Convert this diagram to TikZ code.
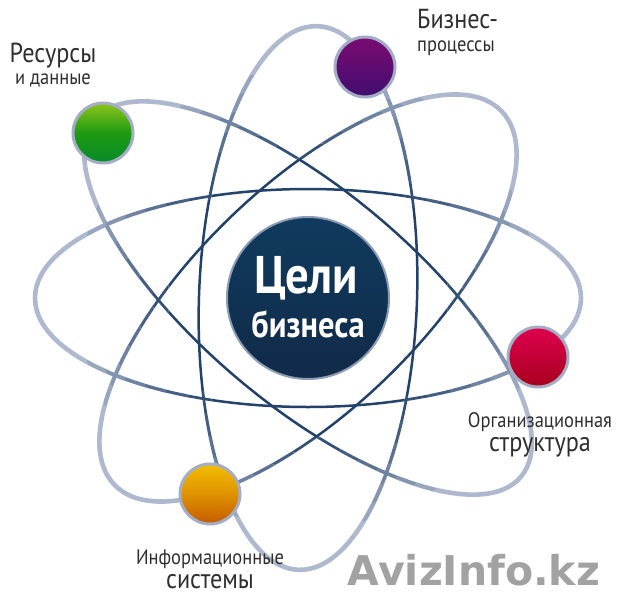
\documentclass[tikz,border=0pt]{standalone}
\usepackage{fontspec}
\setmainfont{PT Sans}[FakeStretch=0.88]
\newfontfamily\wmfont{DejaVu Sans}
\usetikzlibrary{positioning}

\definecolor{orbitlight}{HTML}{AEB8CF}
\definecolor{orbitdark}{HTML}{22426B}
\definecolor{ballrim}{HTML}{A3AEC6}
\definecolor{goalrim}{HTML}{8C9CB5}
\definecolor{goaltop}{HTML}{0F3B5F}
\definecolor{goalbot}{HTML}{112A48}
\definecolor{labelgray}{HTML}{2E2E2E}
\definecolor{wmgray}{HTML}{A2A2A2}
\definecolor{restop}{HTML}{8CC51A}
\definecolor{resmid}{HTML}{1E9A12}
\definecolor{resbot}{HTML}{078A2A}
\definecolor{proctop}{HTML}{7B0C73}
\definecolor{procmid}{HTML}{5E0C70}
\definecolor{procbot}{HTML}{3F0D6E}
\definecolor{orgtop}{HTML}{DE004E}
\definecolor{orgmid}{HTML}{C20036}
\definecolor{orgbot}{HTML}{A7001C}
\definecolor{infotop}{HTML}{F2BE00}
\definecolor{infomid}{HTML}{DE9200}
\definecolor{infobot}{HTML}{C55A00}

\tikzstyle{ball} = [circle, draw=ballrim, line width=3pt, minimum size=60pt, inner sep=0pt]
\tikzstyle{caption} = [text=labelgray, inner sep=0pt, anchor=base]
\tikzstyle{capbig} = [caption, font=\fontsize{27.5}{29}\selectfont]
\tikzstyle{capsmall} = [caption, font=\fontsize{21}{23}\selectfont]

% the four orbits around (c)
\newcommand{\orbitset}{%
  \draw (c) ellipse [x radius=273pt, y radius=109pt];
  \draw[rotate around={-40:(c)}] (c) ellipse [x radius=278pt, y radius=107pt];
  \draw[rotate around={-2:(c)}] (c) ellipse [x radius=109pt, y radius=272pt];
  \draw[rotate around={44:(c)}] (c) ellipse [x radius=269pt, y radius=112pt];
}

\begin{document}
\begin{tikzpicture}[x=1pt,y=-1pt]
  \useasboundingbox (0,0) rectangle (625,600);
  \coordinate (c) at (308,298);

  % orbits: light and thick outside, dark and thin near the centre
  \foreach \ri/\ro/\p/\w in {230/700/0/4.6, 215/230/15/4.3, 200/215/30/4.0,
      185/200/45/3.6, 170/185/60/3.3, 155/170/75/3.0, 140/155/88/2.7, 0/140/100/2.5} {
    \begin{scope}[even odd rule]
      \clip (c) circle [radius=\ro pt] (c) circle [radius=\ri pt];
      \begin{scope}[color=orbitdark!\p!orbitlight, line width=\w pt]
        \orbitset
      \end{scope}
    \end{scope}
  }

  % centre
  \fill[white] (c) circle [radius=86pt];
  \node[circle, draw=goalrim, line width=2pt, minimum size=162pt, inner sep=0pt,
        top color=goaltop, bottom color=goalbot] (goals) at (c) {};
  \node[text=white, font=\bfseries\fontsize{53}{53}\selectfont, anchor=base] (goalsTop) at (306,293) {Цели};
  \node[text=white, font=\bfseries\fontsize{37}{40}\selectfont, anchor=base] (goalsSub) at (308,337) {бизнеса};

  % balls
  \node[ball, top color=restop, bottom color=resbot, middle color=resmid] (res) at (103,133) {};
  \node[ball, top color=proctop, bottom color=procbot, middle color=procmid] (proc) at (365,67) {};
  \node[ball, top color=orgtop, bottom color=orgbot, middle color=orgmid] (org) at (538,357) {};
  \node[ball, top color=infotop, bottom color=infobot, middle color=infomid] (info) at (210,494) {};

  % captions
  \node[capbig] (resTitle) at (53,62) {Ресурсы};
  \node[capsmall, below=22pt of resTitle.base, anchor=base] (resSub) {и данные};
  \node[capbig, anchor=base west] (procTitle) at (417,28) {Бизнес-};
  \node[capsmall, below=23pt of procTitle.base west, anchor=base west] (procSub) {процессы};
  \node[capsmall] (orgTitle) at (540,427) {Организационная};
  \node[capbig, below=24pt of orgTitle.base, anchor=base] (orgSub) {структура};
  \node[capsmall] (infoTitle) at (210,564) {Информационные};
  \node[capbig, below=24pt of infoTitle.base, anchor=base] (infoSub) {системы};

  \node[text=wmgray, font=\wmfont\bfseries\fontsize{41}{41}\selectfont, anchor=base] (wm) at (474,585) {AvizInfo.kz};
\end{tikzpicture}
\end{document}
